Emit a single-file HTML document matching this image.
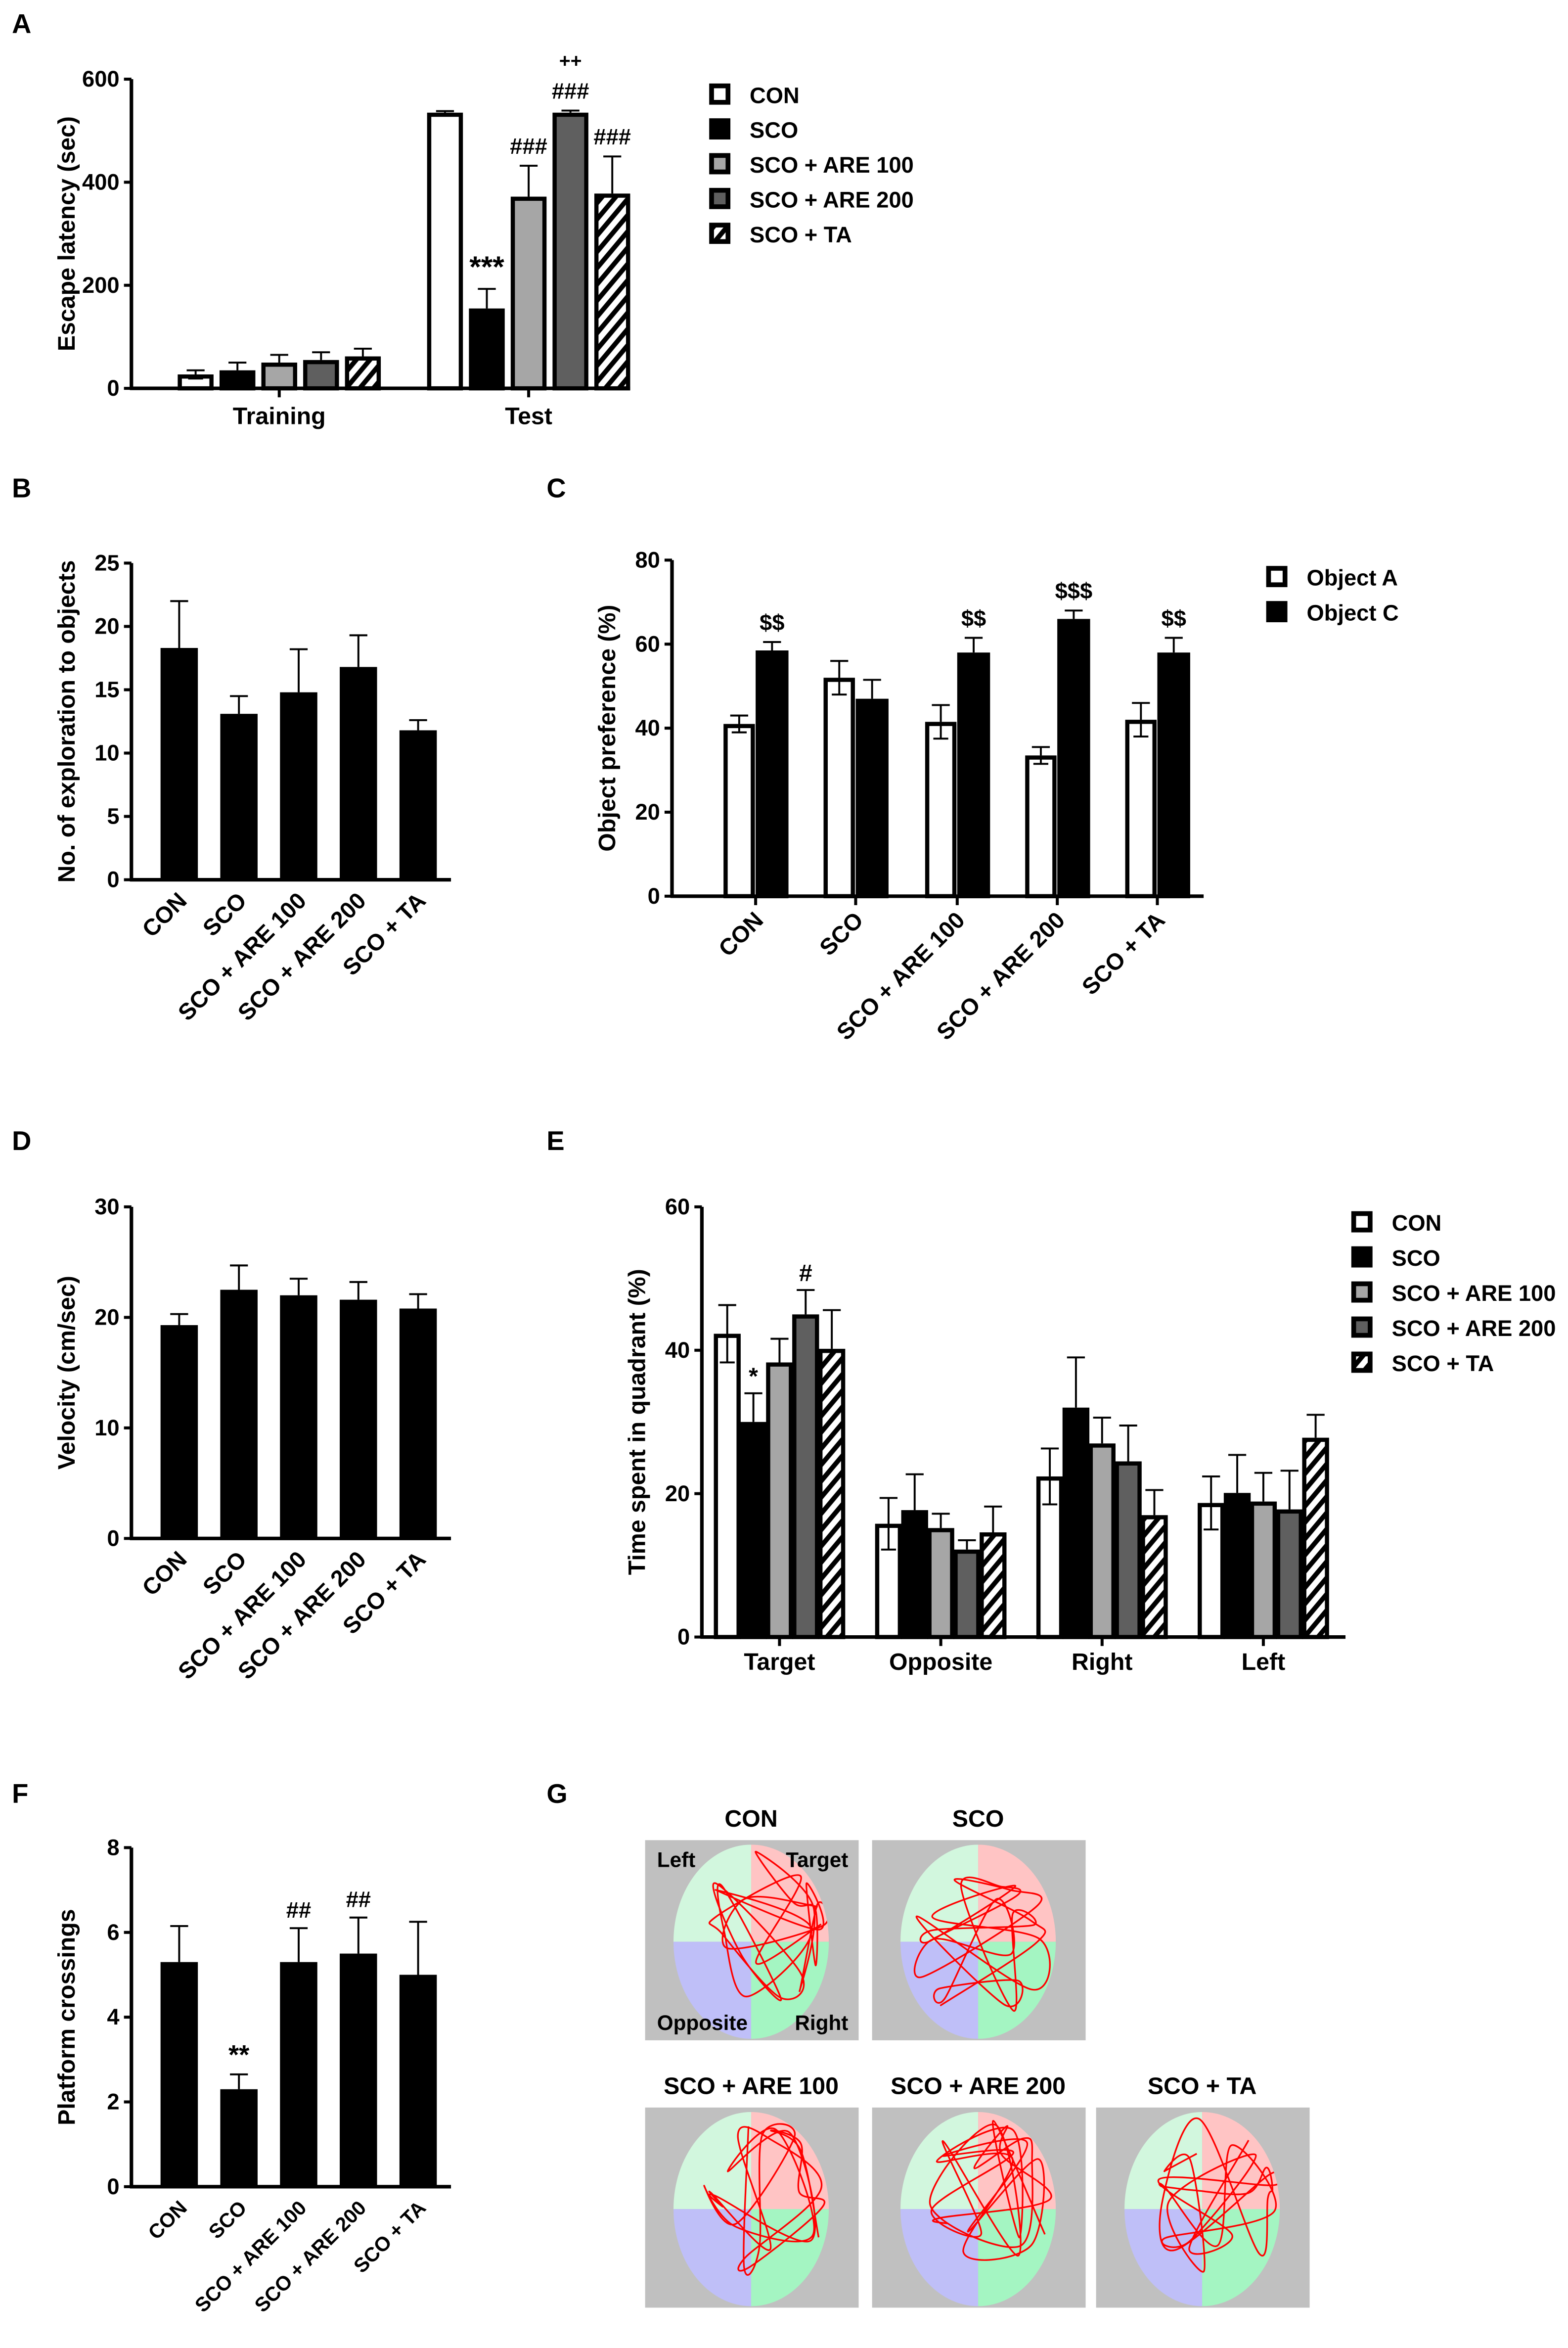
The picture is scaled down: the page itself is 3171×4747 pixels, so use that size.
<!DOCTYPE html>
<html><head><meta charset="utf-8"><style>
html,body{margin:0;padding:0;background:#fff}
svg{display:block}
text{font-family:"Liberation Sans",Arial,sans-serif;font-weight:bold;fill:#000}
</style></head><body>
<svg id="fig" xmlns="http://www.w3.org/2000/svg" width="3171" height="4747" viewBox="0 0 1050 1572" preserveAspectRatio="none">
<defs>
<pattern id="hatch" patternUnits="userSpaceOnUse" width="7" height="7" patternTransform="rotate(40)">
<rect width="7" height="7" fill="#fff"/><rect width="3.2" height="7" fill="#000"/>
</pattern>
</defs>
<text x="8" y="22" font-size="18">A</text>
<text x="8" y="333" font-size="18">B</text>
<text x="366" y="333" font-size="18">C</text>
<text x="8" y="770" font-size="18">D</text>
<text x="366" y="770" font-size="18">E</text>
<text x="8" y="1207" font-size="18">F</text>
<text x="366" y="1207" font-size="18">G</text>
</svg>
<script>
// ---- Data ----
const groups5 = ["CON","SCO","SCO + ARE 100","SCO + ARE 200","SCO + TA"];
const fills5 = ["#fff","#000","#a6a6a6","#5f5f5f","url(#hatch)"];
// A
const aCats = ["Training","Test"];
const aTicks = [0,200,400,600];
const aTrain = [27,35,50,55,62];
const aTrainErr = [8,15,15,15,15];
const aTest = [535,155,372,535,378];
const aTestErr = [3,38,60,4,72];
const aTestMarks = ["","***","###","###","###"];
// B
const bTicks = [0,5,10,15,20,25];
const bVals = [18.3,13.1,14.8,16.8,11.8];
const bErr = [3.7,1.4,3.4,2.5,0.8];
// C
const cTicks = [0,20,40,60,80];
const cObjA = [41,52,41.5,33.5,42];
const cObjAErr = [2,4,4,2,4];
const cObjC = [58.5,47,58,66,58];
const cObjCErr = [2,4.5,3.5,2,3.5];
const cMarks = ["$$","","$$","$$$","$$"];
// D
const dTicks = [0,10,20,30];
const dVals = [19.3,22.5,22,21.6,20.8];
const dErr = [1,2.2,1.5,1.6,1.3];
// E
const eCats = ["Target","Opposite","Right","Left"];
const eTicks = [0,20,40,60];
const eCON = [42.3,15.8,22.4,18.7];
const eSCO = [30,17.7,32,20.1];
const eA100 = [38.3,15.2,27,18.9];
const eA200 = [45,12.2,24.5,17.8];
const eTA = [40.2,14.6,17,27.8];
const eErr = [[4,3.6,3.9,3.7],[4,5,7,5.3],[3.3,2,3.6,4],[3.4,1.3,5,5.4],[5.4,3.6,3.5,3.2]];
const eMarks = [["","","",""],["*","","",""],["","","",""],["#","","",""],["","","",""]];
// F
const fTicks = [0,2,4,6,8];
const fVals = [5.3,2.3,5.3,5.5,5.0];
const fErr = [0.85,0.35,0.8,0.85,1.25];
const fMarks = ["","**","##","##",""];

const svg = document.getElementById('fig');
const NS = "http://www.w3.org/2000/svg";
function mk(tag, attrs, parent){
  const e = document.createElementNS(NS, tag);
  for (const k in attrs) e.setAttribute(k, attrs[k]);
  (parent||svg).appendChild(e); return e;
}
function txt(s, x, y, size, anchor, parent){
  const t = mk('text', {x:x, y:y, 'font-size':size, 'text-anchor':anchor||'middle'}, parent);
  t.textContent = s; return t;
}
function axisY(g, x0, x1, yTop, yBot, ticks, max, title){
  const sc = v => yBot - (v/max)*(yBot-yTop);
  const ax = mk('line', {x1:x0, y1:yTop, x2:x0, y2:yBot+1, stroke:'#000','stroke-width':2.4}, g);
  
  
  const bx = mk('line', {x1:x0-1, y1:yBot, x2:x1, y2:yBot, stroke:'#000','stroke-width':2.4}, g);
  
  
  ticks.forEach(v=>{
    mk('line',{x1:x0-5,y1:sc(v),x2:x0,y2:sc(v),stroke:'#000','stroke-width':2}, g);
    const t = txt(String(v), x0-8, sc(v)+5, 15, 'end', g);
    
    
  });
  const cy = (yTop+yBot)/2;
  const tt = txt(title, 0, 0, 16, 'middle', g);
  tt.setAttribute('transform', `translate(${x0-38},${cy}) rotate(-90)`);
  
  
  return sc;
}
function bar(g, cx, w, v, err, sc, fill, yBot, thick){
  const y = sc(v);
  if (err>0){
    mk('line',{x1:cx,y1:y,x2:cx,y2:sc(v+err),stroke:'#000','stroke-width':1.3}, g);
    mk('line',{x1:cx-6,y1:sc(v+err),x2:cx+6,y2:sc(v+err),stroke:'#000','stroke-width':1.3}, g);
  }
  const sw = thick ? 2.8 : 0;
  const r = mk('rect',{x:cx-w/2+sw/2, y:y+sw/2, width:w-sw, height:Math.max(0,yBot-y-sw/2), fill:fill, stroke:'#000','stroke-width':sw}, g);
  
  
  if (thick && fill==='#fff' && err>0){
    mk('line',{x1:cx,y1:y,x2:cx,y2:sc(v-err),stroke:'#000','stroke-width':1.3}, g);
    mk('line',{x1:cx-5,y1:sc(v-err),x2:cx+5,y2:sc(v-err),stroke:'#000','stroke-width':1.3}, g);
  }
  return y;
}
function rotLabels(g, xs, yBot, size){
  groups5.forEach((s,i)=>{
    const t = txt(s, 0, 0, size, 'end', g);
    t.setAttribute('transform', `translate(${xs[i]+6},${yBot+15}) rotate(-45)`);
    
    
  });
}
function legend(g, x, y0, dy, labels, fills){
  labels.forEach((s,i)=>{
    const r = mk('rect',{x:x+1.5,y:y0+i*dy-6.5,width:11,height:11,fill:fills[i],stroke:'#000','stroke-width':3.2}, g);
    
    
    const t = txt(s, x+27, y0+i*dy+5, 15, 'start', g);
    
    
  });
}

// ---- Panel A ----
{
  const g = mk('g',{});  
  const yBot=260, sc = axisY(g, 88, 422, 53, yBot, aTicks, 600, 'Escape latency (sec)');
  const bw=24, step=28;
  const centers=[187,354];
  [aTrain,aTest].forEach((vals,gi)=>{
    const errs = gi===0?aTrainErr:aTestErr;
    vals.forEach((v,i)=>{
      const cx = centers[gi]+(i-2)*step;
      bar(g,cx,bw,v,errs[i],sc,fills5[i],yBot,true);
      if (gi===1 && aTestMarks[i]) {
        const m = txt(aTestMarks[i], cx, sc(v+errs[i])-8, i===1?20:15, 'middle', g);
         
      }
    });
    mk('line',{x1:centers[gi],y1:yBot,x2:centers[gi],y2:yBot+6,stroke:'#000','stroke-width':2},g);
    const t = txt(aCats[gi], centers[gi], yBot+24, 16, 'middle', g);
     
  });
  const pp = txt('++', 382, 45, 13, 'middle', g);
   
  legend(g, 475, 64, 23.3, groups5, fills5);
}
// ---- Panel B ----
const xs5 = [120,160,200,240,280];
{
  const g = mk('g',{});  
  const yBot=589, sc = axisY(g, 88, 302, 377, yBot, bTicks, 25, 'No. of exploration to objects');
  bVals.forEach((v,i)=> bar(g,xs5[i],25,v,bErr[i],sc,'#000',yBot,false));
  rotLabels(g, xs5, yBot, 15.5);
}
// ---- Panel C ----
{
  const g = mk('g',{});  
  const yBot=600, sc = axisY(g, 450, 806, 375, yBot, cTicks, 80, 'Object preference (%)');
  const cxs=[506,573,641,708,775];
  cxs.forEach((c,i)=>{
    bar(g,c-11,21,cObjA[i],cObjAErr[i],sc,'#fff',yBot,true);
    bar(g,c+11,22,cObjC[i],cObjCErr[i],sc,'#000',yBot,true);
    if (cMarks[i]) { const m=txt(cMarks[i], c+11, sc(cObjC[i]+cObjCErr[i])-8, 15,'middle',g);
        }
    mk('line',{x1:c,y1:yBot,x2:c,y2:yBot+6,stroke:'#000','stroke-width':2},g);
  });
  groups5.forEach((s,i)=>{
    const t = txt(s,0,0,15.5,'end',g);
    t.setAttribute('transform',`translate(${cxs[i]+6},${yBot+17}) rotate(-45)`);
     
  });
  legend(g, 848, 387, 23.5, ["Object A","Object C"], ['#fff','#000']);
}
// ---- Panel D ----
{
  const g = mk('g',{});  
  const yBot=1030, sc = axisY(g, 88, 302, 808, yBot, dTicks, 30, 'Velocity (cm/sec)');
  dVals.forEach((v,i)=> bar(g,xs5[i],25,v,dErr[i],sc,'#000',yBot,false));
  rotLabels(g, xs5, yBot, 15.5);
}
// ---- Panel E ----
{
  const g = mk('g',{});  
  const yBot=1096, sc = axisY(g, 470, 901, 808, yBot, eTicks, 60, 'Time spent in quadrant (%)');
  const series=[eCON,eSCO,eA100,eA200,eTA];
  const cxs=[522,630,738,846];
  cxs.forEach((c,gi)=>{
    series.forEach((s,i)=>{
      const cx=c+(i-2)*17.5;
      bar(g,cx,18,s[gi],eErr[i][gi],sc,fills5[i],yBot,true);
      if (eMarks[i][gi]) { const m=txt(eMarks[i][gi], cx, sc(s[gi]+eErr[i][gi])-6, 16,'middle',g);
          }
    });
    mk('line',{x1:c,y1:yBot,x2:c,y2:yBot+6,stroke:'#000','stroke-width':2},g);
    const t=txt(eCats[gi], c, yBot+22, 16,'middle',g);
     
  });
  legend(g, 905, 819, 23.5, groups5, fills5);
}
// ---- Panel F ----
{
  const g = mk('g',{});  
  const yBot=1464, sc = axisY(g, 88, 302, 1237, yBot, fTicks, 8, 'Platform crossings');
  fVals.forEach((v,i)=>{
    bar(g,xs5[i],25,v,fErr[i],sc,'#000',yBot,false);
    if (fMarks[i]) { const m=txt(fMarks[i], xs5[i], sc(v+fErr[i])-7, i===1?18:15,'middle',g);
        }
  });
  rotLabels(g, xs5, yBot, 13.5);
}
// ---- Panel G ----
{
  const g = mk('g',{});  
  const boxes=[[432,1232,"CON"],[584,1232,"SCO"],[432,1411,"SCO + ARE 100"],[584,1411,"SCO + ARE 200"],[734,1411,"SCO + TA"]];
  let seed=11; const rnd=()=>{seed=(seed*16807)%2147483647;return seed/2147483647;};
  boxes.forEach(([x,y,label],bi)=>{
    const bg=mk('g',{},g);
    
    
    mk('rect',{x:x,y:y,width:143,height:134,fill:'#c0c0c0'},bg);
    const cx=x+71, cy=y+68, rx=52, ry=65;
    const cid='clip'+bi;
    const cp=mk('clipPath',{id:cid},bg); mk('ellipse',{cx:cx,cy:cy,rx:rx,ry:ry},cp);
    const q=mk('g',{'clip-path':`url(#${cid})`},bg);
    mk('rect',{x:cx-rx,y:cy-ry,width:rx,height:ry,fill:'#d2f7de'},q);
    mk('rect',{x:cx,y:cy-ry,width:rx,height:ry,fill:'#ffc4c4'},q);
    mk('rect',{x:cx-rx,y:cy,width:rx,height:ry,fill:'#bfbff8'},q);
    mk('rect',{x:cx,y:cy,width:rx,height:ry,fill:'#a4f5c2'},q);
    // decorative swim path: smooth Catmull-Rom through random points
    const pts=[];
    const bx = bi===1?0:0.25, by = bi===1?0:-0.2;
    for(let k=0;k<28;k++){
      let ang=rnd()*Math.PI*2, rr=0.35+0.6*Math.sqrt(rnd());
      let nx=cx+(Math.cos(ang)*rr+bx)*rx*0.9, ny=cy+(Math.sin(ang)*rr+by)*ry*0.9;
      const ddx=(nx-cx)/rx, ddy=(ny-cy)/ry, r=Math.sqrt(ddx*ddx+ddy*ddy);
      if(r>0.93){nx=cx+(nx-cx)*0.93/r; ny=cy+(ny-cy)*0.93/r;}
      pts.push([nx,ny]);
    }
    let d=`M${pts[0][0].toFixed(1)},${pts[0][1].toFixed(1)}`;
    for(let k=0;k<pts.length-1;k++){
      const p0=pts[Math.max(0,k-1)], p1=pts[k], p2=pts[k+1], p3=pts[Math.min(pts.length-1,k+2)];
      const c1=[p1[0]+(p2[0]-p0[0])/6, p1[1]+(p2[1]-p0[1])/6];
      const c2=[p2[0]-(p3[0]-p1[0])/6, p2[1]-(p3[1]-p1[1])/6];
      d+=` C${c1[0].toFixed(1)},${c1[1].toFixed(1)} ${c2[0].toFixed(1)},${c2[1].toFixed(1)} ${p2[0].toFixed(1)},${p2[1].toFixed(1)}`;
    }
    const p=mk('path',{d:d,fill:'none',stroke:'#ff0000','stroke-width':1.1,'clip-path':`url(#${cid})`},bg);
    
    
    const t=txt(label, x+71, y-9, 16,'middle',bg);
    
    
    if(bi===0){
      [["Left",x+8,y+18],["Target",x+136,y+18],["Opposite",x+8,y+127],["Right",x+136,y+127]].forEach(([s,lx,ly])=>{
        const lt=txt(s, lx, ly, 14, s==="Target"||s==="Right"?'end':'start', bg);
        
        
      });
    }
  });
}
</script>
</body></html>
